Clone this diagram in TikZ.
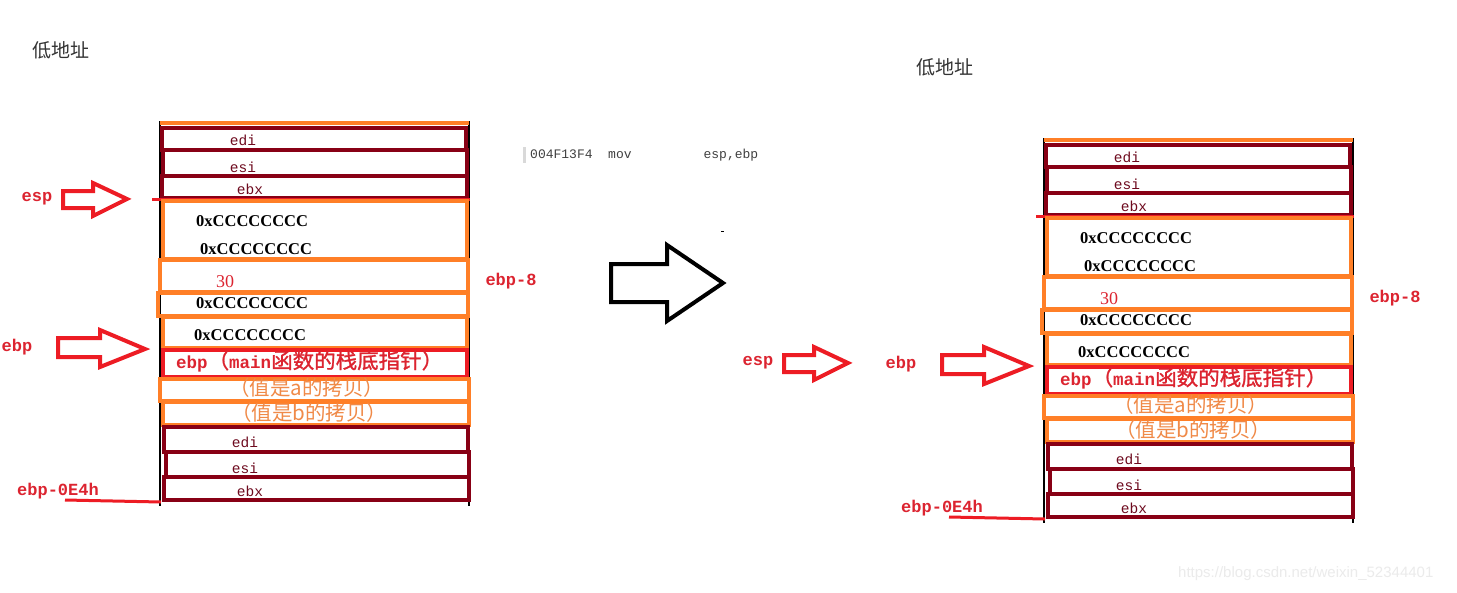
\documentclass[tikz,border=0pt]{standalone}
\usepackage{fontspec}
\setmainfont{Liberation Serif}
\newfontfamily\cjkf{Noto Sans CJK SC}
\newfontfamily\cjkfb{Noto Sans CJK SC}[FakeBold=1.2]
\newfontfamily\monof{Liberation Mono}
\newfontfamily\wmf{Liberation Sans}
\definecolor{mar}{HTML}{880015}
\definecolor{org}{HTML}{FF7F27}
\definecolor{rd}{HTML}{ED1C24}
\definecolor{rdtxt}{HTML}{DC2430}
\definecolor{orgtxt}{HTML}{F08A48}
\definecolor{martxt}{HTML}{6E0A1E}
\tikzset{
  blk/.style={draw=black, line width=2},
  marbox/.style={draw=mar, line width=4.5},
  orgbox/.style={draw=org, line width=4.5},
  rdbox/.style={draw=rd, line width=4.5},
  rdline/.style={draw=rd, line width=3},
  regtxt/.style={font=\monof\fontsize{14.5}{14.5}\selectfont, text=martxt, inner sep=0},
  hextxt/.style={font=\bfseries\fontsize{16.5}{17}\selectfont, anchor=west, inner sep=0},
  redlbl/.style={font=\monof\bfseries\fontsize{17}{17}\selectfont, text=rdtxt, inner sep=0},
  copytxt/.style={font=\cjkf\fontsize{20.5}{21}\selectfont, text=orgtxt, anchor=west, inner sep=0},
  lowtxt/.style={font=\cjkf\fontsize{19}{19}\selectfont, text=black!80, inner sep=0},
  redarrow/.style={draw=rd, line width=4, line join=miter},
}
\newcommand\stackdraw[1]{%
  \draw[blk] (160,121) -- (160,506);
  \draw[blk] (469,121) -- (469,506);
  \draw[orgbox] (160,123) -- (469,123);
  \draw[marbox] (162,128) rectangle (466,150);
  \draw[marbox] (163,150) rectangle (467,176);
  \draw[marbox] (162,176) rectangle (467,198);
  \draw[rdline] (152,199) -- (470,199);
  \draw[orgbox] (163,201) rectangle (467,259);
  \draw[orgbox] (160,260) rectangle (468,292);
  \draw[orgbox] (158,293) rectangle (468,316);
  \draw[orgbox] (163,317) rectangle (467,348);
  \draw[rdbox] (163,350) rectangle (467,377);
  \draw[orgbox] (160,379) rectangle (469,401);
  \draw[orgbox] (163,402) rectangle (469,425);
  \draw[marbox] (164,427) rectangle (468,452);
  \draw[marbox] (166,452) rectangle (469,477);
  \draw[marbox] (164,477) rectangle (469,500);
  % texts
  \node[regtxt] (#1edia) at (243,140) {edi};
  \node[regtxt] (#1esia) at (243,167) {esi};
  \node[regtxt] (#1ebxa) at (250,189) {ebx};
  \node[hextxt] (#1hexa) at (196,221) {0xCCCCCCCC};
  \node[hextxt] (#1hexb) at (200,249) {0xCCCCCCCC};
  \node[font=\fontsize{18}{18}\selectfont, text=rdtxt, inner sep=0] (#1thirty) at (225,282) {30};
  \node[hextxt] (#1hexc) at (196,303) {0xCCCCCCCC};
  \node[hextxt] (#1hexd) at (194,335) {0xCCCCCCCC};
  \node[anchor=west, inner sep=0, text=rdtxt] (#1mainebp) at (176,361)
    {{\monof\bfseries\fontsize{17.5}{18}\selectfont ebp}{\cjkfb\fontsize{21.5}{22}\selectfont （}{\monof\bfseries\fontsize{17.5}{18}\selectfont main}{\cjkfb\fontsize{21.5}{22}\selectfont 函数的栈底指针）}};
  \node[copytxt] (#1copya) at (229,388) {（值是a的拷贝）};
  \node[copytxt] (#1copyb) at (231,413) {（值是b的拷贝）};
  \node[regtxt] (#1edib) at (245,442) {edi};
  \node[regtxt] (#1esib) at (245,468) {esi};
  \node[regtxt] (#1ebxb) at (250,491) {ebx};
  % labels
  \node[lowtxt] (#1low) at (61,50) {低地址};
  \node[redlbl] (#1ebpeight) at (511,281) {ebp-8};
  \node[redlbl] (#1ebpe4) at (58,491) {ebp-0E4h};
  \coordinate (#1lnstart) at (65,500);
  \coordinate (#1lnend) at (161,502);
  \draw[rdline] (#1lnstart) -- (#1lnend);
  \node[redlbl] (#1ebplbl) at (17,347) {ebp};
  \draw[redarrow] (58,338) -- (100,338) -- (100,330) -- (145,349) -- (100,367) -- (100,357) -- (58,357) -- cycle;
}
\newcommand\espdraw[1]{%
  \node[redlbl] (#1esplbl) at (37,199) {esp};
  \draw[redarrow] (63,191) -- (93,191) -- (93,183) -- (127,199) -- (93,216) -- (93,208) -- (63,208) -- cycle;
}
\begin{document}
\begin{tikzpicture}[x=1pt, y=-1pt]
  \useasboundingbox (0,0) rectangle (1457,592);
  \fill[white] (0,0) rectangle (1457,592);
  % left stack
  \begin{scope}
    \stackdraw{L}
    \espdraw{L}
  \end{scope}
  % right stack
  \begin{scope}[shift={(884,17)}]
    \stackdraw{R}
  \end{scope}
  \begin{scope}[shift={(721,164)}]
    \espdraw{R}
  \end{scope}
  % middle instruction
  \fill[black!15] (523,147) rectangle (526,163);
  \node[font=\monof\fontsize{13}{13}\selectfont, text=black!75, anchor=west, inner sep=0] (instr) at (530,155)
    {004F13F4\hspace{15.6pt}mov\hspace{72pt}esp,ebp};
  \draw[black, line width=1] (721,231) -- (724,231);
  % big transition arrow
  \draw[black, line width=4, line join=miter] (611,264) -- (667,264) -- (667,245) -- (723,283) -- (667,321) -- (667,302) -- (611,302) -- cycle;
  % watermark
  \node[font=\wmf\fontsize{15}{15}\selectfont, text=black!8, anchor=west, inner sep=0] (wm) at (1178,574) {https://blog.csdn.net/weixin\_52344401};
\end{tikzpicture}
\end{document}
